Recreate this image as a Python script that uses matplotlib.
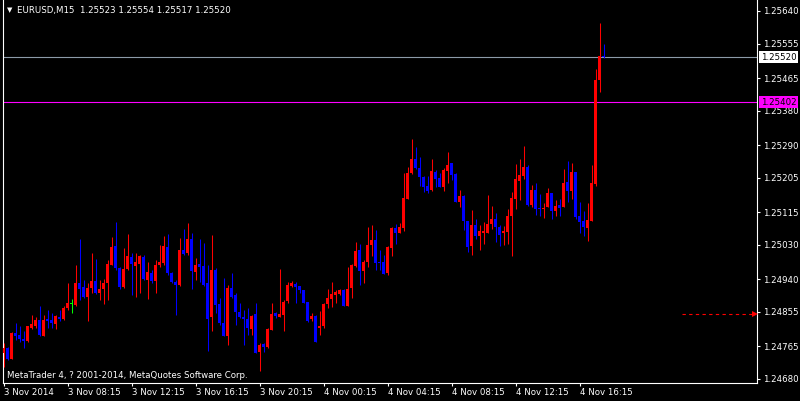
import numpy as np
import matplotlib
matplotlib.use("Agg")
import matplotlib.pyplot as plt
import matplotlib.transforms as mtransforms

# =====================================================
# DATA  (EURUSD, M15, 3-4 Nov 2014)
# =====================================================

opens = [
    1.24749, 1.24762, 1.24733, 1.24801, 1.24795, 1.24784, 1.24780, 1.24814, 1.24819, 1.24834,
    1.24792, 1.24836, 1.24834, 1.24824, 1.24843, 1.24837, 1.24864, 1.24875, 1.24873, 1.24930,
    1.24919, 1.24893, 1.24917, 1.24936, 1.24904, 1.24914, 1.24930, 1.24977, 1.25027, 1.24969,
    1.24919, 1.24967, 1.24999, 1.24976, 1.24980, 1.24999, 1.24938, 1.24956, 1.24936, 1.24977,
    1.24982, 1.25024, 1.24956, 1.24934, 1.24924, 1.25017, 1.25008, 1.25044, 1.24960, 1.24980,
    1.24975, 1.24930, 1.24841, 1.24964, 1.24876, 1.24825, 1.24793, 1.24917, 1.24899, 1.24856,
    1.24843, 1.24837, 1.24811, 1.24850, 1.24751, 1.24771, 1.24764, 1.24808, 1.24851, 1.24843,
    1.24847, 1.24884, 1.24923, 1.24928, 1.24923, 1.24911, 1.24882, 1.24836, 1.24844, 1.24814,
    1.24817, 1.24876, 1.24888, 1.24899, 1.24902, 1.24912, 1.24871, 1.24917, 1.24975, 1.25017,
    1.24962, 1.24984, 1.25030, 1.25043, 1.24986, 1.24986, 1.24956, 1.25023, 1.25075, 1.25062,
    1.25075, 1.25150, 1.25217, 1.25254, 1.25231, 1.25208, 1.25184, 1.25173, 1.25221, 1.25205,
    1.25182, 1.25223, 1.25243, 1.25215, 1.25143, 1.25157, 1.25091, 1.25028, 1.25081, 1.25054,
    1.25062, 1.25062, 1.25084, 1.25097, 1.25076, 1.25060, 1.25064, 1.25104, 1.25150, 1.25197,
    1.25210, 1.25234, 1.25134, 1.25173, 1.25127, 1.25124, 1.25130, 1.25164, 1.25117, 1.25134,
    1.25130, 1.25193, 1.25171, 1.25219, 1.25105, 1.25093, 1.25075, 1.25093, 1.25189, 1.25459,
    1.25523,
]

highs = [
    1.24773, 1.24764, 1.24803, 1.24827, 1.24817, 1.24804, 1.24818, 1.24847, 1.24843, 1.24871,
    1.24847, 1.24860, 1.24851, 1.24847, 1.24860, 1.24871, 1.24930, 1.24888, 1.24977, 1.25044,
    1.24938, 1.24930, 1.25008, 1.24992, 1.24938, 1.24941, 1.24991, 1.25051, 1.25089, 1.24973,
    1.25021, 1.25057, 1.25010, 1.25008, 1.25004, 1.25004, 1.24986, 1.24964, 1.24991, 1.25030,
    1.25053, 1.25058, 1.24960, 1.24938, 1.25047, 1.25071, 1.25086, 1.25060, 1.24995, 1.25044,
    1.25034, 1.24977, 1.25056, 1.24969, 1.24891, 1.24943, 1.24925, 1.24957, 1.24904, 1.24877,
    1.24860, 1.24864, 1.24847, 1.24877, 1.24775, 1.24775, 1.24812, 1.24877, 1.24856, 1.24967,
    1.24886, 1.24934, 1.24936, 1.24934, 1.24923, 1.24912, 1.24882, 1.24851, 1.24847, 1.24858,
    1.24877, 1.24914, 1.24934, 1.24912, 1.24914, 1.24914, 1.24973, 1.24980, 1.25038, 1.25032,
    1.24991, 1.25077, 1.25082, 1.25069, 1.25017, 1.25003, 1.25028, 1.25076, 1.25084, 1.25088,
    1.25218, 1.25234, 1.25306, 1.25284, 1.25258, 1.25210, 1.25210, 1.25254, 1.25225, 1.25217,
    1.25230, 1.25272, 1.25244, 1.25217, 1.25173, 1.25160, 1.25093, 1.25121, 1.25098, 1.25081,
    1.25089, 1.25160, 1.25131, 1.25112, 1.25082, 1.25079, 1.25124, 1.25169, 1.25241, 1.25254,
    1.25288, 1.25238, 1.25186, 1.25192, 1.25163, 1.25138, 1.25177, 1.25165, 1.25147, 1.25149,
    1.25228, 1.25249, 1.25244, 1.25221, 1.25142, 1.25117, 1.25138, 1.25238, 1.25489, 1.25609,
    1.25554,
]

lows = [
    1.24712, 1.24730, 1.24731, 1.24782, 1.24777, 1.24762, 1.24777, 1.24810, 1.24814, 1.24791,
    1.24791, 1.24812, 1.24812, 1.24810, 1.24832, 1.24834, 1.24860, 1.24853, 1.24871, 1.24886,
    1.24891, 1.24832, 1.24904, 1.24901, 1.24886, 1.24875, 1.24886, 1.24977, 1.24964, 1.24914,
    1.24917, 1.24964, 1.24899, 1.24893, 1.24904, 1.24938, 1.24889, 1.24930, 1.24905, 1.24973,
    1.24977, 1.24951, 1.24931, 1.24847, 1.24923, 1.25004, 1.25004, 1.24914, 1.24938, 1.24934,
    1.24923, 1.24754, 1.24806, 1.24853, 1.24821, 1.24791, 1.24769, 1.24891, 1.24821, 1.24838,
    1.24769, 1.24795, 1.24795, 1.24747, 1.24702, 1.24751, 1.24762, 1.24808, 1.24838, 1.24841,
    1.24804, 1.24877, 1.24921, 1.24879, 1.24905, 1.24877, 1.24830, 1.24832, 1.24777, 1.24795,
    1.24812, 1.24864, 1.24867, 1.24877, 1.24899, 1.24871, 1.24871, 1.24891, 1.24973, 1.24925,
    1.24930, 1.24973, 1.25001, 1.24964, 1.24964, 1.24953, 1.24951, 1.25001, 1.25032, 1.25060,
    1.25067, 1.25149, 1.25214, 1.25227, 1.25184, 1.25169, 1.25164, 1.25171, 1.25182, 1.25180,
    1.25171, 1.25192, 1.25199, 1.25143, 1.25128, 1.25069, 1.25012, 1.25004, 1.25044, 1.25017,
    1.25032, 1.25060, 1.25072, 1.25038, 1.25027, 1.25030, 1.25032, 1.25001, 1.25123, 1.25147,
    1.25201, 1.25131, 1.25128, 1.25108, 1.25105, 1.25101, 1.25128, 1.25097, 1.25104, 1.25104,
    1.25128, 1.25143, 1.25150, 1.25098, 1.25061, 1.25053, 1.25041, 1.25091, 1.25184, 1.25430,
    1.25517,
]

closes = [
    1.24762, 1.24731, 1.24801, 1.24792, 1.24784, 1.24780, 1.24817, 1.24824, 1.24834, 1.24795,
    1.24834, 1.24832, 1.24825, 1.24844, 1.24836, 1.24866, 1.24877, 1.24875, 1.24930, 1.24914,
    1.24895, 1.24917, 1.24936, 1.24904, 1.24914, 1.24930, 1.24979, 1.25024, 1.24969, 1.24919,
    1.24967, 1.25001, 1.24979, 1.24986, 1.25001, 1.24940, 1.24960, 1.24936, 1.24977, 1.24986,
    1.25028, 1.24956, 1.24934, 1.24924, 1.25017, 1.25006, 1.25044, 1.24962, 1.24977, 1.24973,
    1.24925, 1.24836, 1.24964, 1.24873, 1.24825, 1.24792, 1.24917, 1.24893, 1.24856, 1.24841,
    1.24836, 1.24814, 1.24844, 1.24749, 1.24769, 1.24763, 1.24810, 1.24850, 1.24845, 1.24849,
    1.24880, 1.24925, 1.24930, 1.24921, 1.24911, 1.24879, 1.24832, 1.24844, 1.24777, 1.24818,
    1.24876, 1.24891, 1.24902, 1.24907, 1.24912, 1.24871, 1.24914, 1.24977, 1.25015, 1.24962,
    1.24984, 1.25030, 1.25043, 1.24982, 1.24982, 1.24953, 1.25025, 1.25075, 1.25062, 1.25077,
    1.25153, 1.25218, 1.25254, 1.25230, 1.25206, 1.25182, 1.25171, 1.25223, 1.25202, 1.25182,
    1.25225, 1.25238, 1.25212, 1.25143, 1.25157, 1.25091, 1.25025, 1.25081, 1.25054, 1.25066,
    1.25066, 1.25084, 1.25097, 1.25076, 1.25056, 1.25066, 1.25104, 1.25151, 1.25201, 1.25212,
    1.25232, 1.25134, 1.25173, 1.25123, 1.25123, 1.25127, 1.25164, 1.25117, 1.25131, 1.25127,
    1.25191, 1.25171, 1.25219, 1.25103, 1.25090, 1.25077, 1.25095, 1.25191, 1.25459, 1.25523,
    1.25520,
]

price_ticks = [1.24680, 1.24765, 1.24855, 1.24940, 1.25030, 1.25115,
               1.25205, 1.25290, 1.25380, 1.25465, 1.25555, 1.25640]

time_tick_bars = [0, 16, 32, 48, 64, 80, 96, 112, 128, 144]
time_tick_labels = ["3 Nov 2014", "3 Nov 08:15", "3 Nov 12:15", "3 Nov 16:15",
                    "3 Nov 20:15", "4 Nov 00:15", "4 Nov 04:15", "4 Nov 08:15",
                    "4 Nov 12:15", "4 Nov 16:15"]

BID_LEVEL = 1.25520
ALERT_LEVEL = 1.25402
ORDER_LEVEL = 1.24850

HEADER = "EURUSD,M15  1.25523 1.25554 1.25517 1.25520"
COPYRIGHT = "MetaTrader 4, ? 2001-2014, MetaQuotes Software Corp."

# =====================================================
# STYLE
# =====================================================

BULL = "#ff0000"
BEAR = "#0000ff"
DOJI = "#00ff00"
FONT = "DejaVu Sans"
FS = 6.2

plt.rcParams["font.family"] = [FONT]

o = np.array(opens)
h = np.array(highs)
l = np.array(lows)
c = np.array(closes)
x = np.arange(len(o))

colors = np.where(c > o, BULL, np.where(c < o, BEAR, DOJI))

# =====================================================
# FIGURE
# =====================================================

W, H = 800, 401
fig = plt.figure(figsize=(W / 100, H / 100), dpi=100, facecolor="black")
ax = fig.add_axes([3 / W, 18 / H, 754 / W, 383 / H], facecolor="black")

# y scale: 1.25640 sits 11 px below the top, 1.24680 at 379 px
px_per_unit = 368 / (1.25640 - 1.24680)
ax.set_ylim(1.24680 - 4 / px_per_unit, 1.25640 + 11 / px_per_unit)
ax.set_xlim(-0.125, 188.375)

one_px = 1 / px_per_unit

# wicks
ax.vlines(x, l, h, colors=colors, linewidth=0.75, zorder=3)
# bodies
body_h = np.maximum(np.abs(c - o), one_px)
ax.bar(x, body_h, bottom=np.minimum(o, c), width=0.75, color=colors,
       linewidth=0, zorder=4)

# price lines
ax.axhline(BID_LEVEL, color="#8c9aa8", linewidth=0.8, zorder=2)
ax.axhline(ALERT_LEVEL, color="#ff00ff", linewidth=0.8, zorder=2)

# dashed order arrow on the right
ax.plot([169.6, 187.6], [ORDER_LEVEL, ORDER_LEVEL], color="red",
        linewidth=0.8, linestyle=(0, (3, 3)), zorder=5)
ax.plot([187.9], [ORDER_LEVEL], marker=">", markersize=4.5, color="red",
        markeredgewidth=0, zorder=5)

# spines / ticks
for side in ["left", "right", "bottom"]:
    ax.spines[side].set_color("white")
    ax.spines[side].set_linewidth(0.8)
ax.spines["top"].set_visible(False)

ax.yaxis.tick_right()
ax.set_yticks(price_ticks)
ax.set_yticklabels([f"{p:.5f}" for p in price_ticks])
ax.tick_params(axis="y", colors="white", length=2.3, width=0.8, pad=2.2,
               labelsize=FS, labelcolor="white")

ax.set_xticks(time_tick_bars)
ax.set_xticklabels(time_tick_labels)
ax.tick_params(axis="x", colors="white", length=2.3, width=0.8, pad=1.5,
               labelsize=FS, labelcolor="white")
for lbl in ax.get_xticklabels():
    lbl.set_horizontalalignment("left")

# highlighted price labels on the scale
trans = mtransforms.blended_transform_factory(ax.transAxes, ax.transData)
ax.text(1.005, BID_LEVEL, f"{BID_LEVEL:.5f}", transform=trans, ha="left",
        va="center", fontsize=FS, color="black", zorder=10, clip_on=False,
        bbox=dict(boxstyle="square,pad=0.18", fc="white", ec="none"))
ax.text(1.005, ALERT_LEVEL, f"{ALERT_LEVEL:.5f}", transform=trans, ha="left",
        va="center", fontsize=FS, color="black", zorder=10, clip_on=False,
        bbox=dict(boxstyle="square,pad=0.18", fc="#ff00ff", ec="none"))

# header and copyright
ax.text(4 / 754, 1 - 10.5 / 383, "\u25bc", transform=ax.transAxes,
        ha="left", va="center", fontsize=5, color="white")
ax.text(14 / 754, 1 - 10.5 / 383, HEADER, transform=ax.transAxes,
        ha="left", va="center", fontsize=FS, color="white")
ax.text(4 / 754, 7.5 / 383, COPYRIGHT, transform=ax.transAxes,
        ha="left", va="center", fontsize=FS, color="white")

fig.savefig("out.png", dpi=100, facecolor="black")
